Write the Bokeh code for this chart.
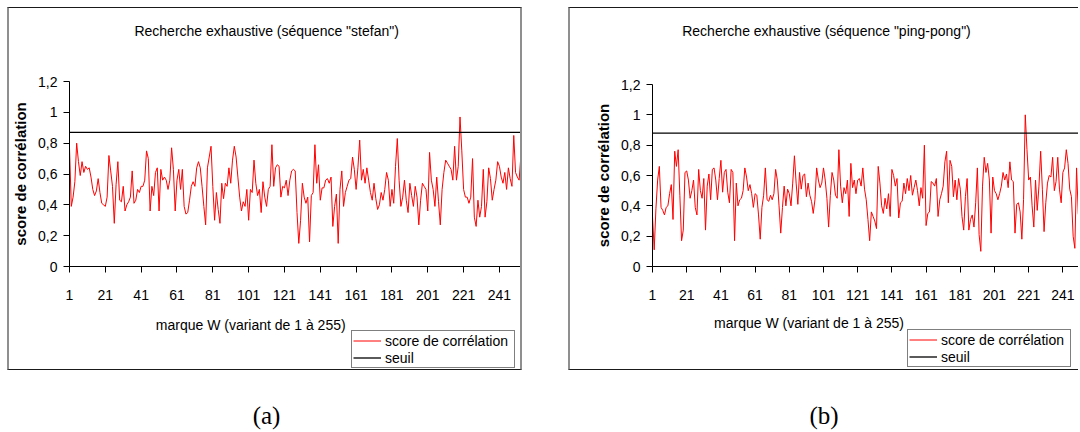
from bokeh.plotting import figure
from bokeh.models import (Range1d, FixedTicker, CustomJSTickFormatter, Label,
                          Legend, LegendItem, Div, Spacer)
from bokeh.layouts import row, column
from bokeh.embed import file_html
from bokeh.resources import INLINE

# ---------------- data ----------------
score_stefan = [
    0.77, 0.39, 0.45, 0.55, 0.80, 0.68, 0.59, 0.68, 0.61, 0.65,
    0.63, 0.64, 0.58, 0.50, 0.46, 0.49, 0.57, 0.48, 0.41, 0.40,
    0.39, 0.45, 0.72, 0.62, 0.52, 0.28, 0.53, 0.68, 0.43, 0.42,
    0.52, 0.36, 0.40, 0.42, 0.45, 0.62, 0.41, 0.43, 0.50, 0.48,
    0.52, 0.52, 0.56, 0.75, 0.70, 0.36, 0.52, 0.46, 0.61, 0.64,
    0.36, 0.63, 0.56, 0.58, 0.56, 0.50, 0.56, 0.77, 0.63, 0.36,
    0.56, 0.63, 0.50, 0.63, 0.39, 0.34, 0.35, 0.43, 0.52, 0.55,
    0.52, 0.64, 0.68, 0.64, 0.52, 0.39, 0.27, 0.64, 0.71, 0.78,
    0.52, 0.30, 0.48, 0.37, 0.28, 0.54, 0.44, 0.54, 0.52, 0.64,
    0.54, 0.69, 0.78, 0.71, 0.58, 0.45, 0.36, 0.42, 0.39, 0.50,
    0.30, 0.50, 0.48, 0.69, 0.54, 0.46, 0.50, 0.35, 0.55, 0.45,
    0.39, 0.50, 0.52, 0.79, 0.52, 0.64, 0.66, 0.65, 0.45, 0.52,
    0.51, 0.56, 0.46, 0.56, 0.62, 0.63, 0.62, 0.35, 0.15, 0.30,
    0.54, 0.45, 0.41, 0.45, 0.16, 0.46, 0.48, 0.79, 0.54, 0.66,
    0.43, 0.51, 0.51, 0.56, 0.57, 0.54, 0.58, 0.26, 0.39, 0.47,
    0.15, 0.50, 0.62, 0.39, 0.48, 0.52, 0.56, 0.57, 0.71, 0.63,
    0.50, 0.64, 0.82, 0.56, 0.63, 0.54, 0.64, 0.56, 0.48, 0.43,
    0.54, 0.44, 0.37, 0.40, 0.48, 0.43, 0.50, 0.61, 0.56, 0.39,
    0.50, 0.41, 0.65, 0.83, 0.56, 0.39, 0.45, 0.56, 0.43, 0.35,
    0.54, 0.46, 0.39, 0.52, 0.45, 0.27, 0.43, 0.54, 0.52, 0.50,
    0.36, 0.74, 0.56, 0.50, 0.39, 0.58, 0.42, 0.27, 0.50, 0.61,
    0.69, 0.67, 0.65, 0.63, 0.56, 0.78, 0.56, 0.65, 0.97, 0.75,
    0.50, 0.45, 0.45, 0.41, 0.45, 0.70, 0.32, 0.26, 0.43, 0.32,
    0.39, 0.63, 0.32, 0.42, 0.64, 0.57, 0.43, 0.50, 0.56, 0.68,
    0.65, 0.58, 0.54, 0.61, 0.50, 0.64, 0.57, 0.52, 0.85, 0.61,
    0.58, 0.56, 0.72, 0.50, 0.00,
]
score_pingpong = [
    0.33, 0.11, 0.38, 0.57, 0.66, 0.39, 0.37, 0.34, 0.39, 0.40,
    0.48, 0.54, 0.31, 0.76, 0.66, 0.77, 0.47, 0.17, 0.24, 0.62,
    0.63, 0.57, 0.45, 0.50, 0.57, 0.39, 0.34, 0.64, 0.50, 0.45,
    0.58, 0.24, 0.53, 0.61, 0.44, 0.64, 0.65, 0.57, 0.44, 0.58,
    0.70, 0.49, 0.62, 0.64, 0.49, 0.42, 0.64, 0.62, 0.17, 0.55,
    0.40, 0.44, 0.45, 0.50, 0.65, 0.59, 0.50, 0.54, 0.48, 0.39,
    0.48, 0.47, 0.34, 0.18, 0.39, 0.47, 0.65, 0.44, 0.43, 0.47,
    0.44, 0.48, 0.64, 0.57, 0.40, 0.22, 0.39, 0.53, 0.40, 0.51,
    0.48, 0.40, 0.55, 0.73, 0.55, 0.41, 0.62, 0.51, 0.60, 0.61,
    0.46, 0.55, 0.47, 0.43, 0.35, 0.44, 0.65, 0.57, 0.52, 0.55,
    0.65, 0.57, 0.45, 0.26, 0.47, 0.62, 0.57, 0.47, 0.45, 0.77,
    0.53, 0.42, 0.52, 0.48, 0.57, 0.33, 0.68, 0.52, 0.57, 0.48,
    0.57, 0.58, 0.53, 0.65, 0.51, 0.44, 0.31, 0.17, 0.36, 0.33,
    0.30, 0.25, 0.66, 0.55, 0.40, 0.35, 0.45, 0.38, 0.48, 0.33,
    0.64, 0.60, 0.53, 0.58, 0.32, 0.42, 0.43, 0.55, 0.48, 0.58,
    0.50, 0.60, 0.47, 0.52, 0.57, 0.50, 0.40, 0.52, 0.45, 0.80,
    0.27, 0.35, 0.36, 0.56, 0.55, 0.53, 0.58, 0.33, 0.44, 0.48,
    0.53, 0.69, 0.76, 0.42, 0.70, 0.66, 0.46, 0.57, 0.44, 0.58,
    0.51, 0.33, 0.24, 0.46, 0.58, 0.24, 0.31, 0.34, 0.26, 0.42,
    0.65, 0.21, 0.10, 0.53, 0.72, 0.62, 0.68, 0.57, 0.22, 0.59,
    0.50, 0.48, 0.44, 0.48, 0.53, 0.62, 0.57, 0.61, 0.52, 0.69,
    0.57, 0.56, 0.22, 0.41, 0.42, 0.36, 0.18, 0.44, 1.00, 0.77,
    0.57, 0.59, 0.40, 0.26, 0.57, 0.37, 0.53, 0.76, 0.51, 0.23,
    0.42, 0.55, 0.60, 0.59, 0.72, 0.50, 0.56, 0.72, 0.51, 0.42,
    0.62, 0.65, 0.77, 0.68, 0.51, 0.46, 0.20, 0.12, 0.65, 0.35,
    0.28, 0.31, 0.30, 0.45, 0.40,
]
seuil_stefan = 0.87
seuil_pingpong = 0.88

x_tick_values = list(range(1, 256, 20))          # 1, 21, ..., 241
y_tick_values = [0, 0.2, 0.4, 0.6, 0.8, 1.0, 1.2]
titles = ['Recherche exhaustive (séquence "stefan")',
          'Recherche exhaustive (séquence "ping-pong")']
x_label = "marque W (variant de 1 à 255)"
y_label = "score de corrélation"
legend_labels = ["score de corrélation", "seuil"]
captions = ["(a)", "(b)"]

FONT = "Liberation Sans"
RED = "#ff0000"
SIDE = "2px solid #8f8f8f"
TB = "1px solid #1a1a1a"
TOP_H, MAIN_H, BOT_H = 62, 239, 62
NAN = float("nan")


def text_fig(w, h, ml, styles):
    # frame of these strips is aligned (by the column) with the main frame,
    # so the x range starts at the main figure's left border width
    f = figure(width=w, height=h, x_range=Range1d(ml, w), y_range=Range1d(h, 0),
               x_axis_type=None, y_axis_type=None, output_backend="svg",
               toolbar_location=None, min_border_left=ml, min_border_right=0,
               min_border_top=0, min_border_bottom=0)
    f.styles = styles
    f.outline_line_color = None
    f.background_fill_color = "white"
    f.border_fill_color = "white"
    return f


def label(text, x, y, size="14px", style="normal"):
    return Label(x=x, y=y, text=text, text_align="center",
                 text_baseline="middle", text_font=FONT,
                 text_font_size=size, text_font_style=style,
                 text_color="black")


def build(scores, seuil, title_text, w, x_end, ml, mt, fh, left_b, right_b,
          title_x, xlab_x, xlab_y, leg_x, leg_y):
    # ---- top strip: chart title
    top = text_fig(w, TOP_H, ml, dict({"border-top": TB}, **left_b, **right_b))
    top.add_layout(label(title_text, title_x, 22.7))

    # ---- main plot
    n = len(scores)
    xs = list(range(1, n + 1))
    p = figure(width=w, height=MAIN_H, x_range=Range1d(1, x_end),
               y_range=Range1d(0, 1.2), output_backend="svg",
               toolbar_location=None, min_border_left=ml,
               min_border_right=0, min_border_top=mt,
               min_border_bottom=MAIN_H - mt - fh)
    p.styles = dict(**left_b, **right_b)
    p.background_fill_color = "white"
    p.border_fill_color = "white"
    p.outline_line_color = None
    p.grid.visible = False
    for ax in (p.xaxis[0], p.yaxis[0]):
        ax.axis_line_color = "black"
        ax.axis_line_width = 1
        ax.major_tick_line_color = "black"
        ax.major_tick_out = 6
        ax.major_tick_in = 0
        ax.minor_tick_line_color = None
        ax.major_label_text_font = FONT
        ax.major_label_text_font_size = "14px"
        ax.major_label_text_color = "black"
    p.xaxis[0].ticker = FixedTicker(ticks=x_tick_values)
    p.xaxis[0].major_label_standoff = 17
    p.yaxis[0].ticker = FixedTicker(ticks=y_tick_values)
    p.yaxis[0].major_label_standoff = 6
    p.yaxis[0].formatter = CustomJSTickFormatter(code="""
        var s = tick.toFixed(1).replace('.', ',');
        if (s.endsWith(',0')) { s = s.slice(0, -2); }
        return s;
    """)
    p.yaxis[0].axis_label = y_label
    p.yaxis[0].axis_label_text_font = FONT
    p.yaxis[0].axis_label_text_font_size = "15px"
    p.yaxis[0].axis_label_text_font_style = "bold"
    p.yaxis[0].axis_label_text_color = "black"
    p.yaxis[0].axis_label_standoff = 6

    p.line(xs, scores, line_color=RED, line_width=1)
    p.line([xs[0], xs[-1]], [seuil, seuil], line_color="black", line_width=1.3)

    # ---- bottom strip: x label + legend
    bot = text_fig(w, BOT_H, ml, dict({"border-bottom": TB}, **left_b, **right_b))
    bot.add_layout(label(x_label, xlab_x, xlab_y))
    # legend swatches (same styles as the plotted lines; no visible data)
    g_score = bot.line(x=[NAN], y=[NAN], line_color=RED, line_width=1)
    g_seuil = bot.line(x=[NAN], y=[NAN], line_color="black", line_width=1.3)
    legend = Legend(items=[LegendItem(label=legend_labels[0], renderers=[g_score]),
                           LegendItem(label=legend_labels[1], renderers=[g_seuil])],
                    location=(leg_x, leg_y), orientation="vertical", margin=0,
                    padding=1, spacing=0, glyph_width=28, glyph_height=17,
                    label_height=17, label_width=128, label_standoff=4,
                    label_text_font=FONT, label_text_font_size="14px",
                    label_text_color="black", border_line_color="black",
                    border_line_width=1, background_fill_color="white",
                    background_fill_alpha=1.0)
    bot.add_layout(legend, "center")
    return [top, p, bot]


def caption(text, w):
    html = ('<div style="width:%dpx;height:60px;overflow:hidden;box-sizing:border-box;'
            'padding-top:31px;text-align:center;'
            'font-family:\'Liberation Serif\',\'DejaVu Serif\',serif;'
            'font-size:25px;line-height:29px;color:#000;">%s</div>') % (w, text)
    return Div(text=html, width=w, height=60, margin=0)


LB = {"border-left": SIDE}
RB = {"border-right": SIDE}

figs_a = build(score_stefan, seuil_stefan, titles[0], w=515, x_end=255,
               ml=58, mt=12, fh=185, left_b=LB, right_b=RB,
               title_x=256, xlab_x=240, xlab_y=16, leg_x=282, leg_y=2)
figs_b = build(score_pingpong, seuil_pingpong, titles[1], w=510, x_end=251.3,
               ml=82, mt=15, fh=182, left_b=LB, right_b={},
               title_x=256, xlab_x=238.5, xlab_y=14, leg_x=255, leg_y=3)

layout = column(
    Spacer(width=10, height=7),
    row(Spacer(width=7, height=10),
        column(*figs_a, caption(captions[0], 519), spacing=0),
        Spacer(width=42, height=10),
        column(*figs_b, caption(captions[1], 512), spacing=0),
        spacing=0),
    spacing=0)

open("out.html", "w").write(file_html(layout, INLINE))
